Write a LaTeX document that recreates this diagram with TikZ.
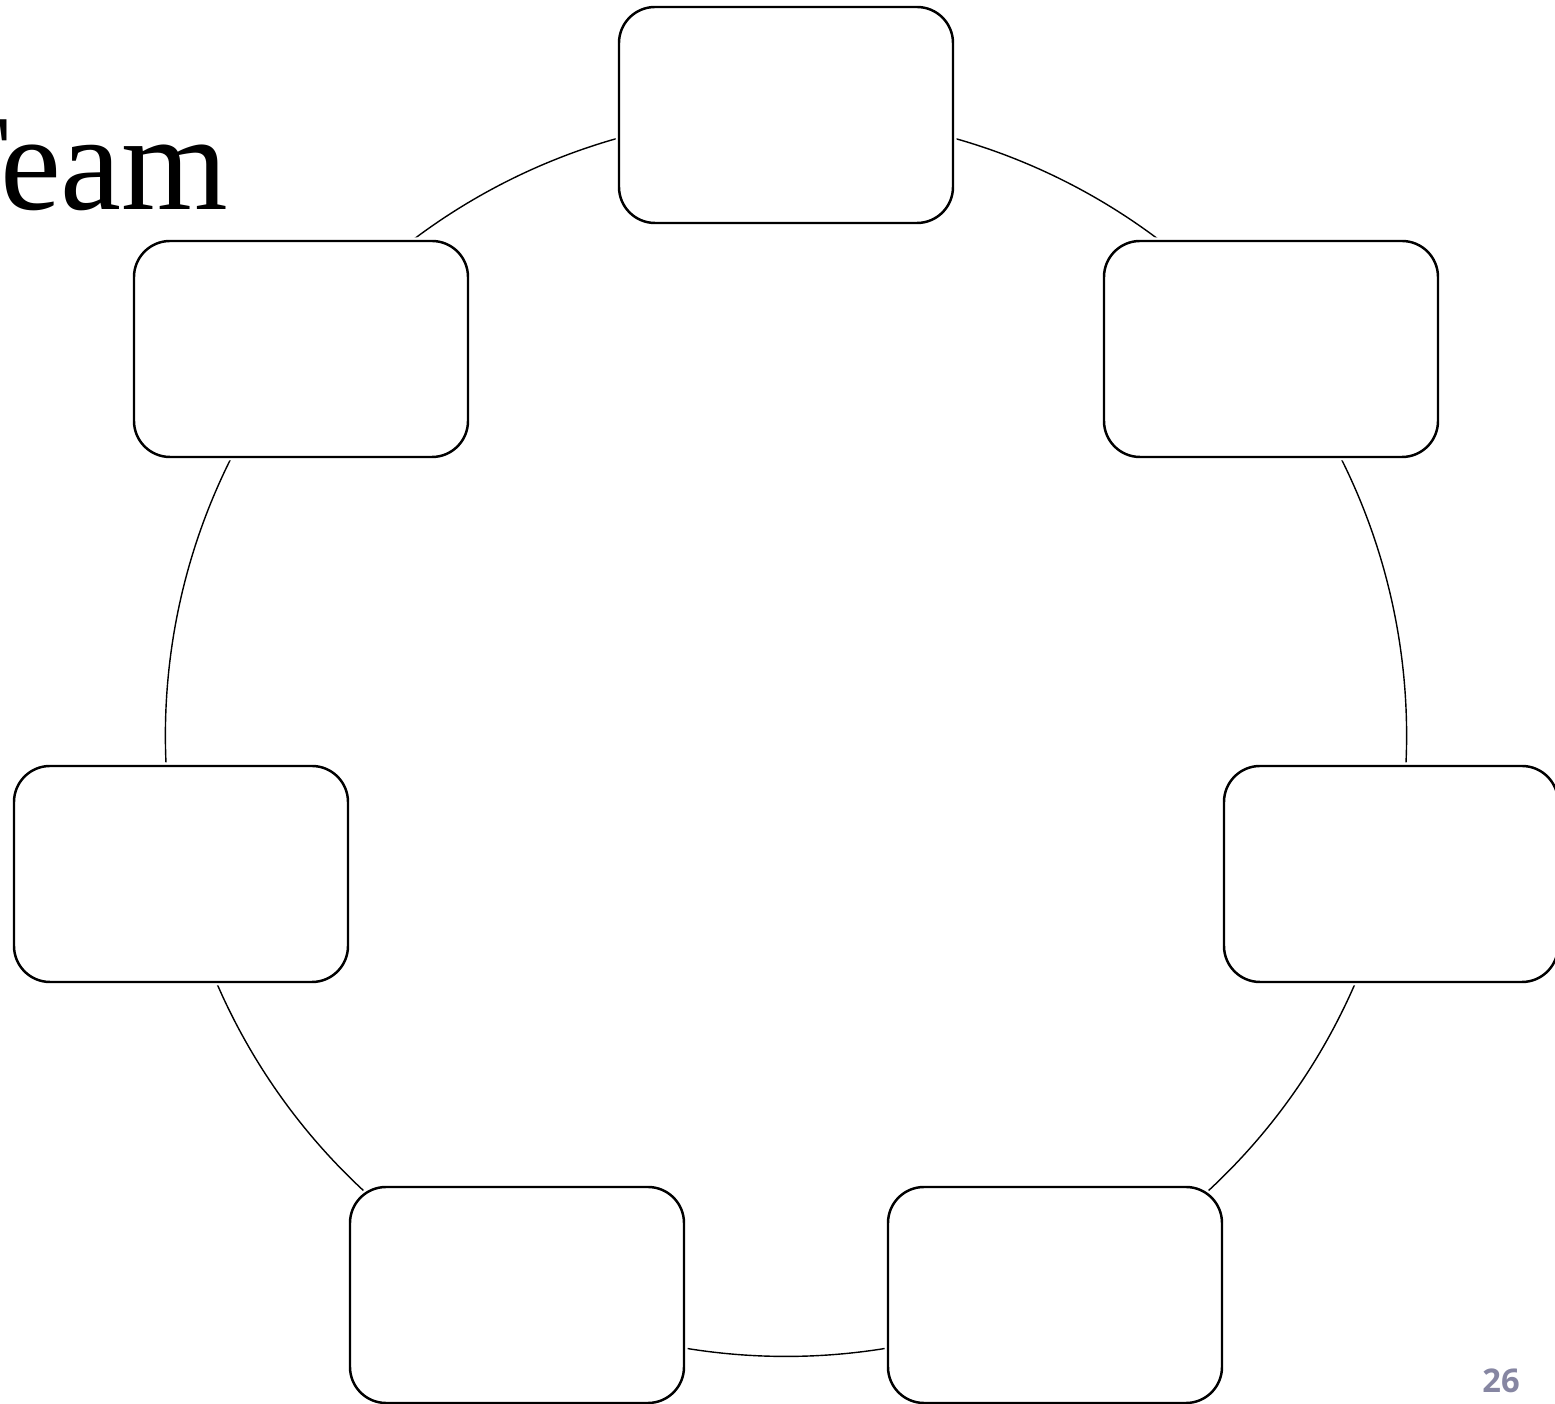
\documentclass[tikz,border=0pt]{standalone}
\usepackage{fontspec}
\setmainfont{Liberation Serif}
\newfontfamily\numfont{Open Sans}
\usetikzlibrary{backgrounds}
\definecolor{pgnum}{RGB}{134,134,162}
\tikzset{
  box/.style={draw, fill=white, rounded corners=0.36cm, minimum width=3.34cm, minimum height=2.16cm, line width=0.7pt, preaction={draw=white, line width=0.07cm}},
  ring/.style={line width=0.4pt, bend left=25.71, looseness=0.9},
  ttl/.style={font=\fontsize{39}{42}\selectfont, inner sep=0pt},
  pnum/.style={font=\numfont\bfseries\fontsize{9.3}{11}\selectfont, text=pgnum, inner sep=0pt}
}

\begin{document}
\begin{tikzpicture}
		\useasboundingbox (0,0) rectangle (15.55,-14.04);
		\clip (0,0) rectangle (15.55,-14.04);
		\node[ttl, anchor=base east] (title) at (2.29,-2.10) {Team};
		\node[box] (top) at (7.86,-1.15) {};
		\node[box] (ur) at (12.71,-3.49) {};
		\node[box] (r) at (13.91,-8.74) {};
		\node[box] (br) at (10.55,-12.95) {};
		\node[box] (bl) at (5.17,-12.95) {};
		\node[box] (l) at (1.81,-8.74) {};
		\node[box] (ul) at (3.01,-3.49) {};
		\begin{scope}[on background layer]
			\foreach \a/\b in {top/ur, ur/r, r/br, br/bl, bl/l, l/ul, ul/top}
				\draw[ring] (\a.center) to (\b.center);
		\end{scope}
		\node[pnum, anchor=base] (pg) at (15.01,-13.93) {26};
	\end{tikzpicture}
\end{document}
